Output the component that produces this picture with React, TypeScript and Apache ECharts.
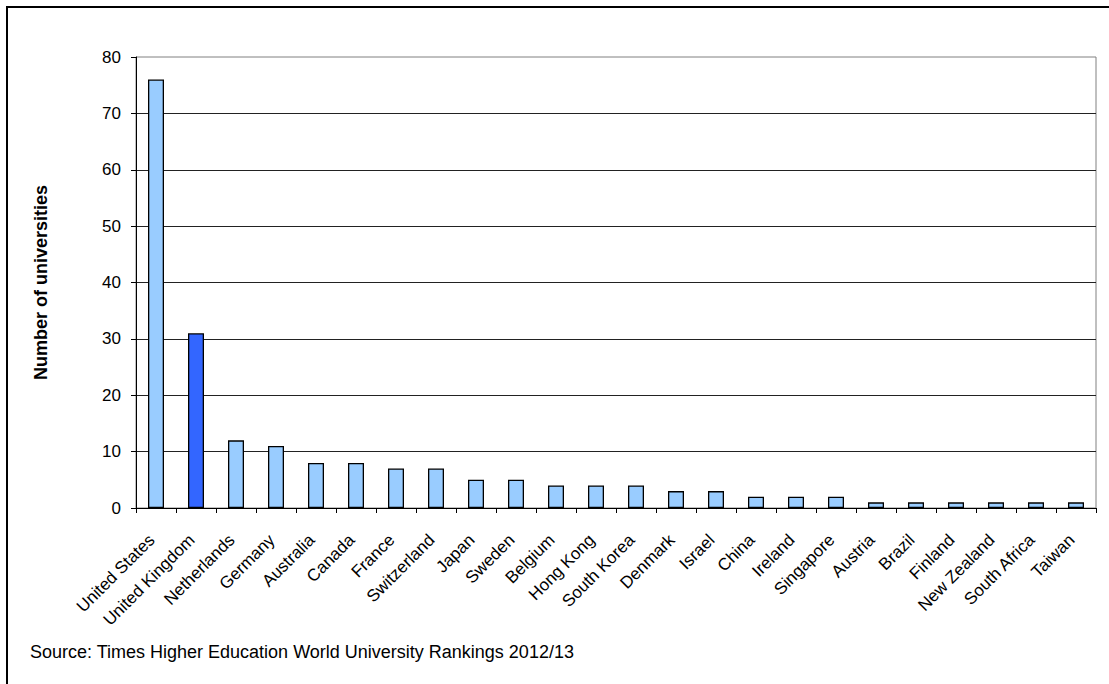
import React, { useEffect, useRef } from "react";
import * as echarts from "echarts";

const countries = [
  "United States", "United Kingdom", "Netherlands", "Germany", "Australia", "Canada",
  "France", "Switzerland", "Japan", "Sweden", "Belgium", "Hong Kong", "South Korea",
  "Denmark", "Israel", "China", "Ireland", "Singapore", "Austria", "Brazil", "Finland",
  "New Zealand", "South Africa", "Taiwan",
];
const universities = [76, 31, 12, 11, 8, 8, 7, 7, 5, 5, 4, 4, 4, 3, 3, 2, 2, 2, 1, 1, 1, 1, 1, 1];
const highlighted = "United Kingdom";
const yAxisTitle = "Number of universities";
const sourceText = "Source: Times Higher Education World University Rankings 2012/13";

const FONT = "'Liberation Sans', Arial, sans-serif";

export default function App() {
  const ref = useRef<HTMLDivElement>(null);
  useEffect(() => {
    if (!ref.current) return;
    const chart = echarts.init(ref.current, null, { renderer: "svg" });
    chart.setOption({
      animation: false,
      backgroundColor: "#ffffff",
      textStyle: { fontFamily: FONT },
      grid: {
        left: 136,
        top: 57,
        right: 13,
        bottom: 176,
        show: true,
        borderColor: "#808080",
        borderWidth: 1,
      },
      xAxis: {
        type: "category",
        data: countries,
        boundaryGap: true,
        axisLine: { lineStyle: { color: "#000", width: 1 } },
        axisTick: { show: true, length: 5, inside: false, lineStyle: { color: "#000" } },
        axisLabel: {
          interval: 0,
          rotate: 45,
          margin: 25,
          padding: [0, 6, 0, 0],
          color: "#000",
          fontSize: 17,
          fontFamily: FONT,
        },
      },
      yAxis: {
        type: "value",
        min: 0,
        max: 80,
        interval: 10,
        name: yAxisTitle,
        nameLocation: "middle",
        nameRotate: 90,
        nameGap: 86,
        nameTextStyle: { color: "#000", fontSize: 18, fontWeight: "bold", fontFamily: FONT },
        axisLine: { show: true, lineStyle: { color: "#000", width: 1 } },
        axisTick: { show: true, length: 5, lineStyle: { color: "#000" } },
        axisLabel: { color: "#000", fontSize: 17, margin: 15, fontFamily: FONT },
        splitLine: { show: true, showMaxLine: false, lineStyle: { color: "#222", width: 1 } },
      },
      series: [
        {
          type: "bar",
          barWidth: "40%",
          data: universities.map((v, i) => ({
            value: v,
            itemStyle: {
              color: countries[i] === highlighted ? "#3366FF" : "#99CCFF",
              borderColor: "#000",
              borderWidth: 1.3,
            },
          })),
        },
      ],
      graphic: [
        {
          type: "rect",
          silent: true,
          shape: { x: 7, y: 7, width: 1120, height: 700 },
          style: { fill: "none", stroke: "#000", lineWidth: 2 },
        },
        {
          type: "text",
          left: 30,
          top: 643,
          style: { text: sourceText, fill: "#000", font: `18px ${FONT}` },
        },
      ],
    });
    return () => chart.dispose();
  }, []);
  return (
    <div
      ref={ref}
      style={{ position: "fixed", left: 0, top: 0, width: 1109, height: 684, background: "#fff" }}
    />
  );
}
